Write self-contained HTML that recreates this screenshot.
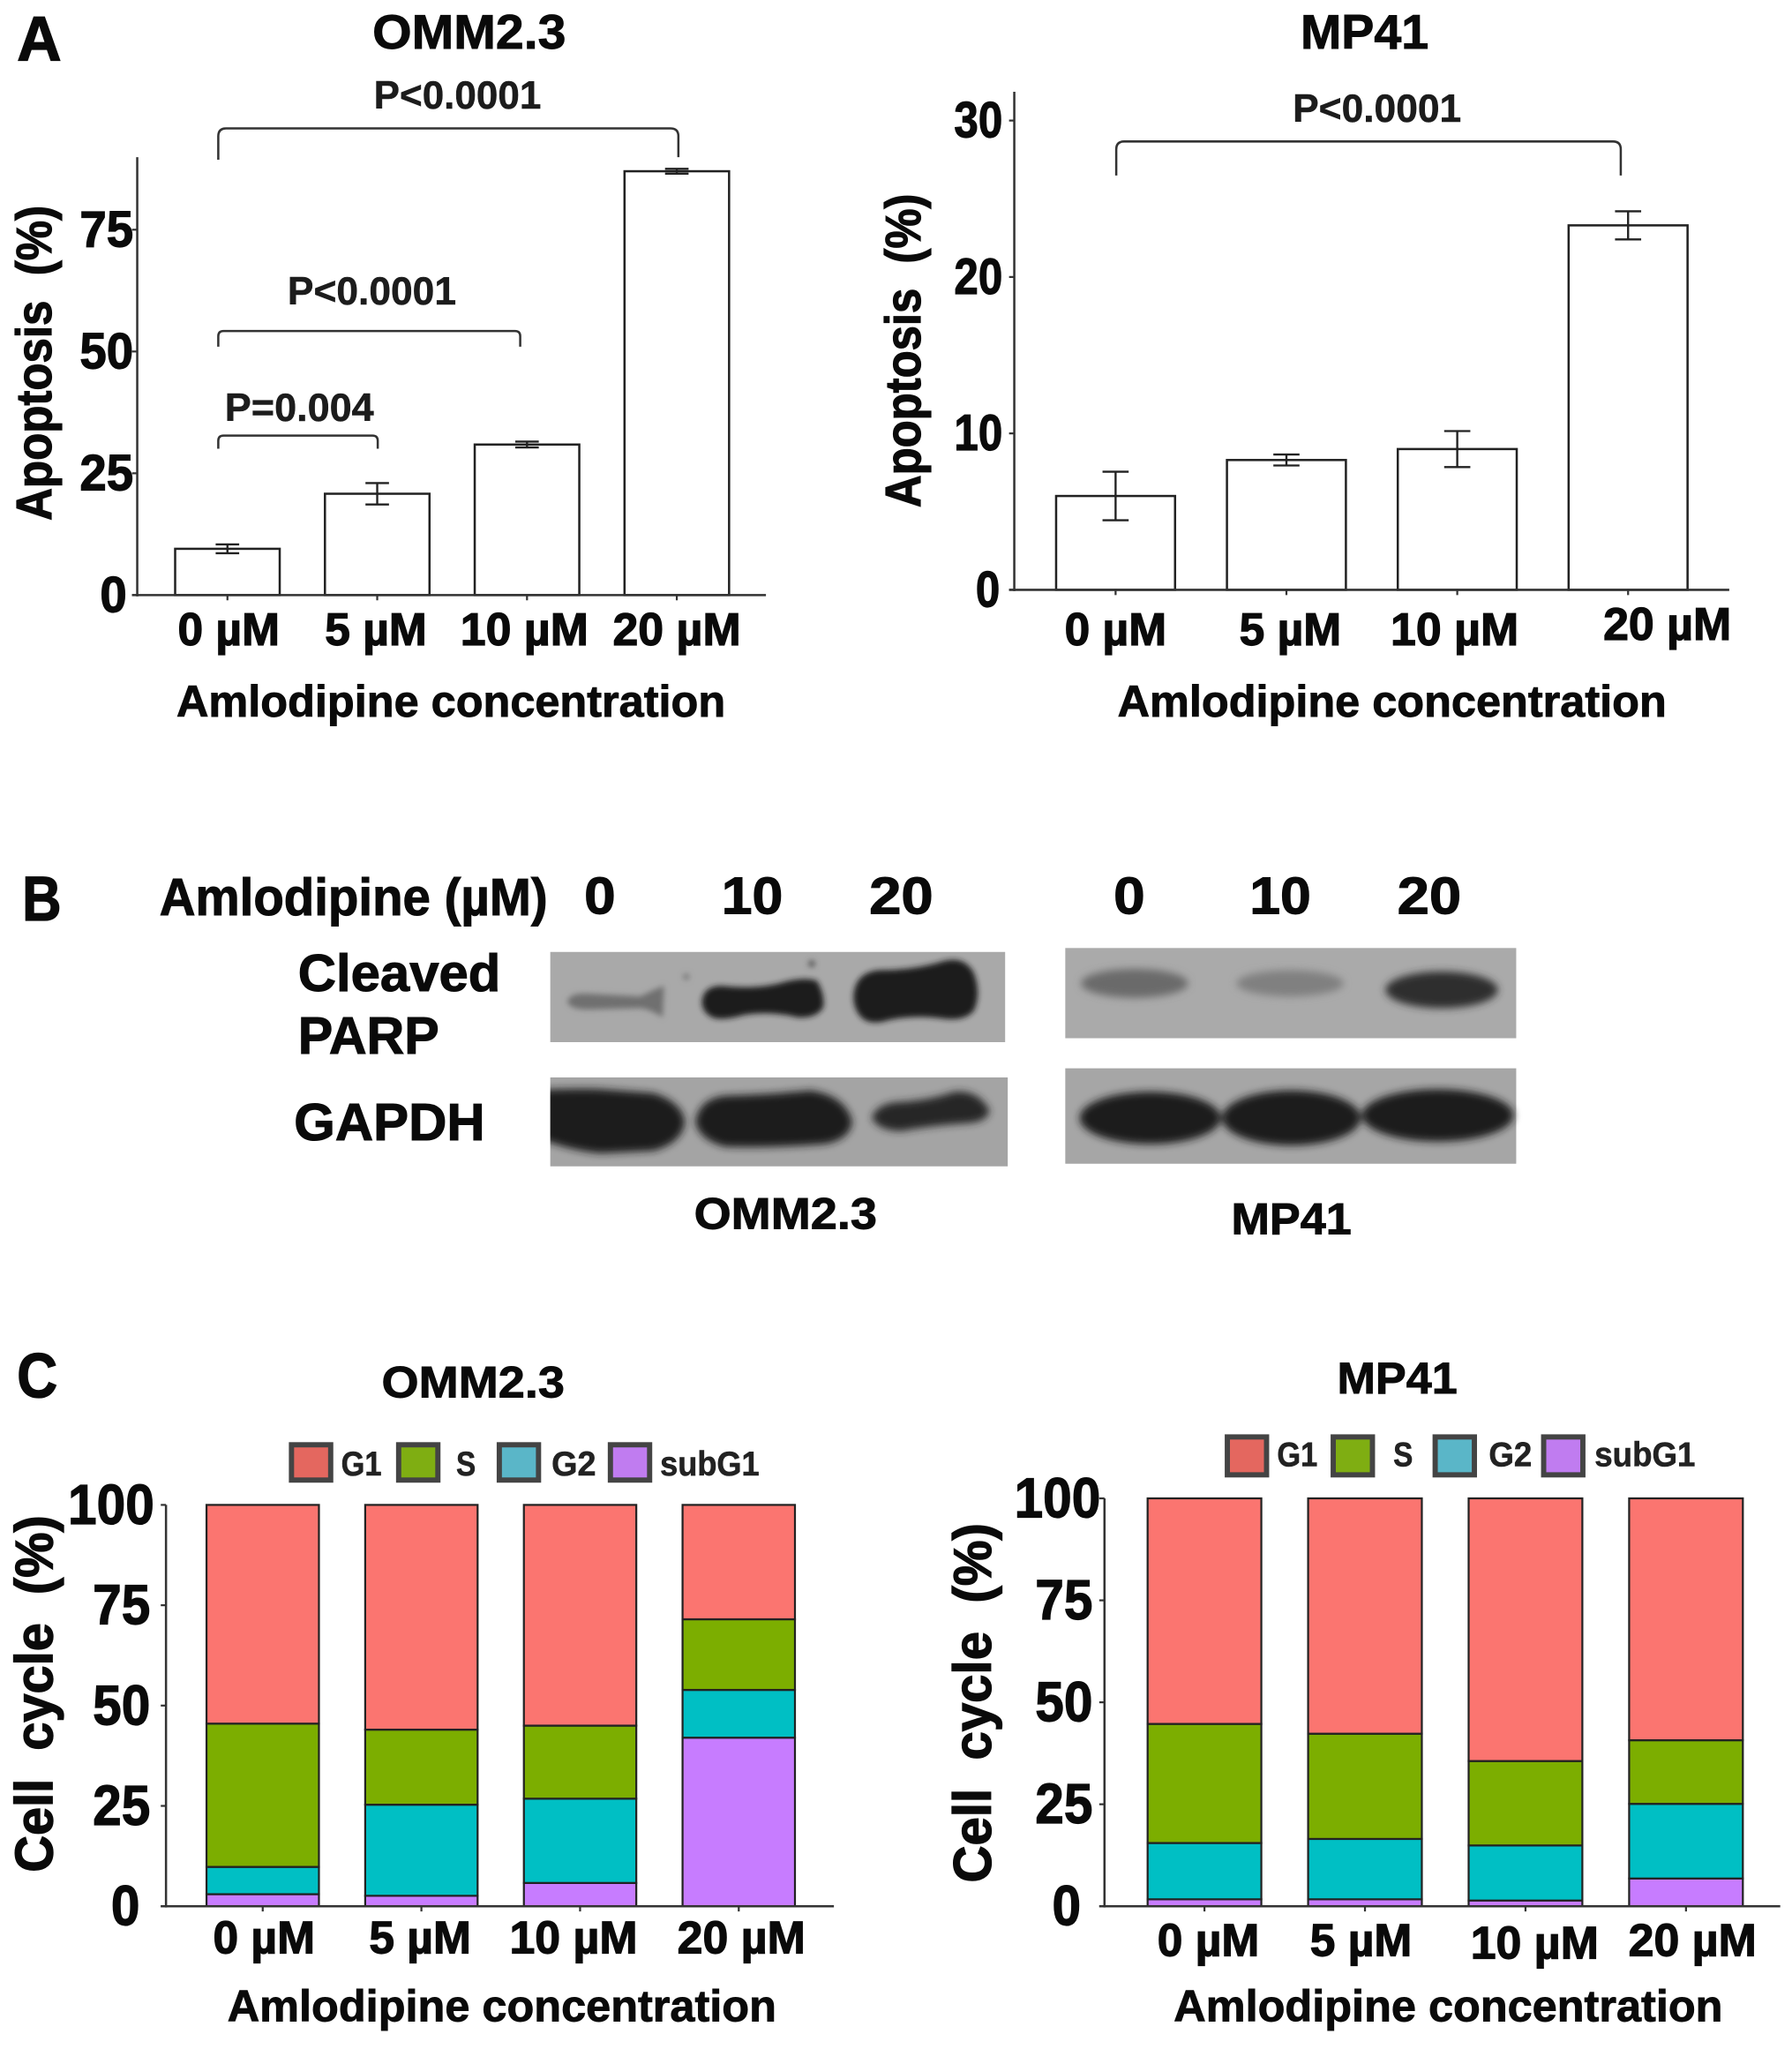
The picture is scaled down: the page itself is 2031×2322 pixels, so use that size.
<!DOCTYPE html>
<html lang="en">
<head>
<meta charset="utf-8">
<title>Amlodipine apoptosis and cell cycle figure</title>
<style>
html,body{margin:0;padding:0;background:#fff}
svg{display:block}
text{font-family:"Liberation Sans",sans-serif;font-weight:700;fill:#0a0a0a;stroke:#0a0a0a;stroke-width:.6;dominant-baseline:central}
.title{font-size:37px}
.letter{font-size:48px;stroke-width:.9}
.xt{font-size:35px;stroke-width:.8}
.pv{font-size:30px;stroke-width:.35;fill:#1c1c1c;stroke:#1c1c1c}
.ax{font-size:34px}
.yt{font-size:39px;stroke-width:.8}
.blot{font-size:40px;stroke-width:.7}
.lg{font-size:26px;stroke-width:.4;fill:#222;stroke:#222}
</style>
</head>
<body>
<svg id="fig" xmlns="http://www.w3.org/2000/svg" width="2031" height="2322" viewBox="0 0 1371 1567">
<defs>
<filter id="b1" x="-20%" y="-50%" width="140%" height="200%"><feGaussianBlur stdDeviation="2.2"/></filter>
<filter id="b2" x="-20%" y="-50%" width="140%" height="200%"><feGaussianBlur stdDeviation="3"/></filter>
<clipPath id="clipGapdhOmm"><rect x="421" y="824" width="350" height="68"/></clipPath>
</defs>
<rect width="1371" height="1567" fill="#fff"/>

<text class="letter" x="13" y="30" textLength="34" lengthAdjust="spacingAndGlyphs">A</text>
<text class="letter" x="17" y="688" textLength="30" lengthAdjust="spacingAndGlyphs">B</text>
<text class="letter" x="13" y="1053" textLength="31" lengthAdjust="spacingAndGlyphs">C</text>

<text class="title" x="285" y="24" textLength="148" lengthAdjust="spacingAndGlyphs">OMM2.3</text>
<text class="title" x="995" y="24" textLength="98" lengthAdjust="spacingAndGlyphs">MP41</text>

<g id="chartA1"></g>
<g id="chartA2"></g>

<g fill="none" stroke="#333" stroke-width="1.7">
<path d="M167 122V104Q167 98 173 98H513Q519 98 519 104V120"/>
<path d="M167 265V257Q167 253 171 253H394Q398 253 398 257V265"/>
<path d="M167 343V337Q167 333 171 333H285Q289 333 289 337V343"/>
<path d="M854 134V114Q854 108 860 108H1234Q1240 108 1240 114V134"/>
</g>
<text class="pv" x="286" y="73" textLength="128" lengthAdjust="spacingAndGlyphs">P&lt;0.0001</text>
<text class="pv" x="220" y="223" textLength="129" lengthAdjust="spacingAndGlyphs">P&lt;0.0001</text>
<text class="pv" x="172" y="312" textLength="114" lengthAdjust="spacingAndGlyphs">P=0.004</text>
<text class="pv" x="989" y="83" textLength="129" lengthAdjust="spacingAndGlyphs">P&lt;0.0001</text>

<text class="ax" transform="translate(26 398) rotate(-90)" textLength="241" lengthAdjust="spacingAndGlyphs" xml:space="preserve" style="font-size:38px;stroke-width:.8">Apoptosis  (%)</text>
<text class="ax" transform="translate(691 388) rotate(-90)" textLength="240" lengthAdjust="spacingAndGlyphs" xml:space="preserve" style="font-size:38px;stroke-width:.8">Apoptosis  (%)</text>
<text class="ax" x="135" y="536" textLength="420" lengthAdjust="spacingAndGlyphs">Amlodipine concentration</text>
<text class="ax" x="855" y="536" textLength="420" lengthAdjust="spacingAndGlyphs">Amlodipine concentration</text>

<!-- Panel B -->
<text class="blot" x="122" y="686" textLength="297" lengthAdjust="spacingAndGlyphs">Amlodipine (µM)</text>
<text class="blot" x="447" y="685" textLength="24" lengthAdjust="spacingAndGlyphs">0</text>
<text class="blot" x="552" y="685" textLength="47" lengthAdjust="spacingAndGlyphs">10</text>
<text class="blot" x="665" y="685" textLength="49" lengthAdjust="spacingAndGlyphs">20</text>
<text class="blot" x="852" y="685" textLength="24" lengthAdjust="spacingAndGlyphs">0</text>
<text class="blot" x="956" y="685" textLength="47" lengthAdjust="spacingAndGlyphs">10</text>
<text class="blot" x="1069" y="685" textLength="49" lengthAdjust="spacingAndGlyphs">20</text>
<text class="blot" x="228" y="744" textLength="155" lengthAdjust="spacingAndGlyphs">Cleaved</text>
<text class="blot" x="228" y="792" textLength="108" lengthAdjust="spacingAndGlyphs">PARP</text>
<text class="blot" x="225" y="858" textLength="146" lengthAdjust="spacingAndGlyphs">GAPDH</text>
<text class="ax" x="531" y="928" textLength="140" lengthAdjust="spacingAndGlyphs">OMM2.3</text>
<text class="ax" x="942" y="932" textLength="92" lengthAdjust="spacingAndGlyphs">MP41</text>

<g>
<rect x="421" y="728" width="348" height="69" fill="#a9a9a9"/>
<g filter="url(#b1)">
<path fill="#707070" d="M434 766Q436 759 450 760L490 762Q500 757 508 754L507 778Q498 772 490 771L450 772Q436 772 434 766Z"/>
<path fill="#1f1f1f" d="M537 766Q538 754 552 754Q580 757 600 751Q615 747 625 750Q631 760 630 770Q625 779 610 778Q590 773 570 776Q552 781 545 778Q537 774 537 766Z"/>
<path fill="#1f1f1f" d="M653 762Q654 744 672 742Q700 742 722 735Q738 731 745 744Q751 760 745 773Q738 781 722 779Q700 776 680 780Q665 785 658 777Q653 771 653 762Z"/>
<circle cx="525" cy="747" r="2.4" fill="#777"/><circle cx="621" cy="737" r="2.6" fill="#555"/>
</g>
</g>
<g>
<rect x="421" y="824" width="350" height="68" fill="#a4a4a4"/>
<g clip-path="url(#clipGapdhOmm)">
<g filter="url(#b2)">
<path fill="#1c1c1c" d="M405 834Q440 832 460 833L500 836Q522 843 524 858Q522 874 500 880L460 882Q435 880 405 868Z"/>
<path fill="#1e1e1e" d="M532 858Q535 840 555 838Q590 837 620 834Q647 838 652 858Q650 872 630 875Q590 878 555 877Q535 872 532 858Z"/>
<path fill="#262626" d="M667 855Q670 845 685 843Q710 842 730 835Q748 833 757 849Q756 858 740 859Q710 861 690 865Q672 865 667 855Z"/>
</g>
</g>
</g>
<g>
<rect x="815" y="725" width="345" height="69" fill="#aaaaaa"/>
<g filter="url(#b2)">
<ellipse cx="868" cy="752" rx="41" ry="11" fill="#6a6a6a"/>
<ellipse cx="987" cy="752" rx="41" ry="10" fill="#808080"/>
<ellipse cx="1103" cy="757" rx="43" ry="14" fill="#2f2f2f"/>
</g>
</g>
<g>
<rect x="815" y="817" width="345" height="73" fill="#a6a6a6"/>
<g filter="url(#b2)">
<ellipse cx="880" cy="855" rx="54" ry="20" fill="#1d1d1d"/>
<ellipse cx="988" cy="855" rx="53" ry="21" fill="#1d1d1d"/>
<ellipse cx="1100" cy="853" rx="58" ry="20" fill="#1d1d1d"/>
</g>
</g>

<!-- Panel C -->
<text class="title" x="292" y="1057" textLength="140" lengthAdjust="spacingAndGlyphs" style="font-size:34px">OMM2.3</text>
<text class="title" x="1023" y="1054" textLength="92" lengthAdjust="spacingAndGlyphs" style="font-size:34px">MP41</text>
<text class="ax" transform="translate(26 1432) rotate(-90)" textLength="273" lengthAdjust="spacingAndGlyphs" xml:space="preserve" style="font-size:41px;stroke-width:.9">Cell  cycle  (%)</text>
<text class="ax" transform="translate(744 1440) rotate(-90)" textLength="275" lengthAdjust="spacingAndGlyphs" xml:space="preserve" style="font-size:41px;stroke-width:.9">Cell  cycle  (%)</text>
<text class="ax" x="174" y="1534" textLength="420" lengthAdjust="spacingAndGlyphs">Amlodipine concentration</text>
<text class="ax" x="898" y="1534" textLength="420" lengthAdjust="spacingAndGlyphs">Amlodipine concentration</text>

<g stroke="#444" stroke-width="4">
<rect x="223" y="1105" width="30" height="27" fill="#e4675f"/>
<rect x="305" y="1105" width="30" height="27" fill="#7fae12"/>
<rect x="382" y="1105" width="30" height="27" fill="#5ab6c8"/>
<rect x="467" y="1105" width="30" height="27" fill="#c07cf0"/>
</g>
<text class="lg" x="261" y="1120" textLength="31" lengthAdjust="spacingAndGlyphs">G1</text>
<text class="lg" x="349" y="1120" textLength="15" lengthAdjust="spacingAndGlyphs">S</text>
<text class="lg" x="422" y="1120" textLength="34" lengthAdjust="spacingAndGlyphs">G2</text>
<text class="lg" x="505" y="1120" textLength="76" lengthAdjust="spacingAndGlyphs">subG1</text>

<g stroke="#444" stroke-width="4">
<rect x="939" y="1099" width="30" height="29" fill="#e4675f"/>
<rect x="1020" y="1099" width="30" height="29" fill="#7fae12"/>
<rect x="1098" y="1099" width="30" height="29" fill="#5ab6c8"/>
<rect x="1181" y="1099" width="30" height="29" fill="#c07cf0"/>
</g>
<text class="lg" x="977" y="1113" textLength="31" lengthAdjust="spacingAndGlyphs">G1</text>
<text class="lg" x="1066" y="1113" textLength="15" lengthAdjust="spacingAndGlyphs">S</text>
<text class="lg" x="1139" y="1113" textLength="33" lengthAdjust="spacingAndGlyphs">G2</text>
<text class="lg" x="1220" y="1113" textLength="77" lengthAdjust="spacingAndGlyphs">subG1</text>

<g id="chartC1"></g>
<g id="chartC2"></g>
</svg>

<script>
// ---------- data ----------
const categories = ['0 µM', '5 µM', '10 µM', '20 µM'];
const apoptosisTicksOmm = [0, 25, 50, 75];
const apoptosisTicksMp = [0, 10, 20, 30];
const cycleTicks = [0, 25, 50, 75, 100];
const apoptosisOmm = [9.5, 20.8, 30.9, 87];
const apoptosisOmmErr = [0.9, 2.2, 0.6, 0.5];
const apoptosisMp = [6.0, 8.3, 9.0, 23.3];
const apoptosisMpErr = [1.55, 0.35, 1.15, 0.9];
const segmentNames = ['subG1', 'G2', 'S', 'G1'];
const segmentColors = ['#c77cff', '#00bfc4', '#7cae00', '#fb7570'];
const ommSubG1 = [3, 2.6, 5.8, 42];
const ommG2 = [6.8, 22.7, 21, 11.9];
const ommS = [35.7, 18.7, 18.2, 17.6];
const ommG1 = [54.5, 56, 55, 28.5];
const mpSubG1 = [1.7, 1.7, 1.4, 6.8];
const mpG2 = [13.8, 14.8, 13.5, 18.3];
const mpS = [29.2, 25.8, 20.7, 15.6];
const mpG1 = [55.3, 57.7, 64.4, 59.3];

// ---------- helpers ----------
const NS = 'http://www.w3.org/2000/svg';
function make(parent, tag, attrs, txt) {
  const el = document.createElementNS(NS, tag);
  for (const k in attrs) el.setAttribute(k, attrs[k]);
  if (txt !== undefined) el.textContent = txt;
  parent.appendChild(el);
  return el;
}
function axisY(zeroPx, topPx, topValue) {
  return v => zeroPx + (topPx - zeroPx) * v / topValue;
}
function axisX(firstCenter, step) {
  return i => firstCenter + step * i;
}

function drawAxes(g, c) {
  const y = c.y, x = c.x;
  let el = make(g, 'line', {x1: c.axisX, x2: c.axisX, y1: c.axisTop, y2: y(0) + 1, stroke: '#333', 'stroke-width': 1.7});
  
  
  el = make(g, 'line', {x1: c.axisX - 4, x2: c.axisEnd, y1: y(0), y2: y(0), stroke: '#333', 'stroke-width': 1.7});
  
  
  c.ticks.forEach(t => {
    const tick = make(g, 'line', {x1: c.axisX - 4, x2: c.axisX, y1: y(t), y2: y(t), stroke: '#333', 'stroke-width': 1.5});
    
    
    const s = String(t);
    const shift = t === 0 ? c.zeroShift : (s.length === 2 ? c.midShift : 0);
    const label = make(g, 'text', {x: c.axisX - c.tickGap - shift, y: y(t), 'text-anchor': 'end', class: 'yt', textLength: c.digitW * s.length, lengthAdjust: 'spacingAndGlyphs', style: 'font-size:' + c.tickFont + 'px'}, s);
    
    
  });
  categories.forEach((cat, i) => {
    const tick = make(g, 'line', {x1: x(i), x2: x(i), y1: y(0), y2: y(0) + 4, stroke: '#333', 'stroke-width': 1.5});
    
    
    const label = make(g, 'text', {x: x(i) + c.nudgeX[i], y: c.labelY + c.nudgeY[i], 'text-anchor': 'middle', class: 'xt', textLength: c.catW[i], lengthAdjust: 'spacingAndGlyphs'}, cat);
    
    
  });
}

function drawApoptosis(g, c, values, errors) {
  const y = c.y, x = c.x;
  values.forEach((v, i) => {
    const bar = make(g, 'rect', {x: x(i) - c.barW / 2, y: y(v), width: c.barW, height: y(0) - y(v), fill: '#fff', stroke: '#222', 'stroke-width': 1.7});
    
    
    const ex = x(i) + c.errDx;
    const err = make(g, 'path', {d: 'M' + (ex - c.cap) + ' ' + y(v + errors[i]) + 'H' + (ex + c.cap) + 'M' + ex + ' ' + y(v + errors[i]) + 'V' + y(v - errors[i]) + 'M' + (ex - c.cap) + ' ' + y(v - errors[i]) + 'H' + (ex + c.cap), fill: 'none', stroke: '#222', 'stroke-width': 1.6});
    
    
  });
  drawAxes(g, c);
}

function drawStack(g, c, series) {
  const y = c.y, x = c.x;
  categories.forEach((cat, i) => {
    let base = 0;
    series.forEach((vals, s) => {
      const top = base + vals[i];
      const seg = make(g, 'rect', {x: x(i) - c.barW / 2, y: y(top), width: c.barW, height: y(base) - y(top), fill: segmentColors[s], stroke: '#222', 'stroke-width': 1.5});
      
      
      base = top;
    });
  });
  drawAxes(g, c);
}

// ---------- charts ----------
drawApoptosis(document.getElementById('chartA1'), {
  y: axisY(455, 175.5, 75), x: axisX(174, 114.6), axisX: 105, axisTop: 120, axisEnd: 586,
  ticks: apoptosisTicksOmm, tickGap: 3, midShift: 0, zeroShift: 5, digitW: 20.5, tickFont: 39, barW: 80, errDx: 0, cap: 9,
  labelY: 481, nudgeX: [1, -1, -2, 0], nudgeY: [0, 0, 0, 0], catW: [78, 78, 98, 98]
}, apoptosisOmm, apoptosisOmmErr);

drawApoptosis(document.getElementById('chartA2'), {
  y: axisY(451, 92, 30), x: axisX(853.5, 130.7), axisX: 776, axisTop: 70, axisEnd: 1323,
  ticks: apoptosisTicksMp, tickGap: 9, midShift: 0, zeroShift: 2, digitW: 18.5, tickFont: 39, barW: 91, errDx: 0, cap: 10,
  labelY: 481, nudgeX: [0, 3, -2, 30], nudgeY: [0, 0, 0, -4], catW: [78, 78, 98, 98]
}, apoptosisMp, apoptosisMpErr);

drawStack(document.getElementById('chartC1'), {
  y: axisY(1458, 1151, 100), x: axisX(201, 121.4), axisX: 127, axisTop: 1151, axisEnd: 638,
  ticks: cycleTicks, tickGap: 9, midShift: 3, zeroShift: 11, digitW: 22, tickFont: 43, barW: 86,
  labelY: 1482, nudgeX: [1, -1, -5, 2], nudgeY: [0, 0, 0, 0], catW: [78, 78, 98, 98]
}, [ommSubG1, ommG2, ommS, ommG1]);

drawStack(document.getElementById('chartC2'), {
  y: axisY(1458, 1146, 100), x: axisX(921.5, 122.8), axisX: 845, axisTop: 1146, axisEnd: 1362,
  ticks: cycleTicks, tickGap: 3, midShift: 6, zeroShift: 15, digitW: 22, tickFont: 43, barW: 87,
  labelY: 1484, nudgeX: [3, -3, 7, 5], nudgeY: [0, 0, 2, 0], catW: [78, 78, 98, 98]
}, [mpSubG1, mpG2, mpS, mpG1]);
</script>
</body>
</html>
